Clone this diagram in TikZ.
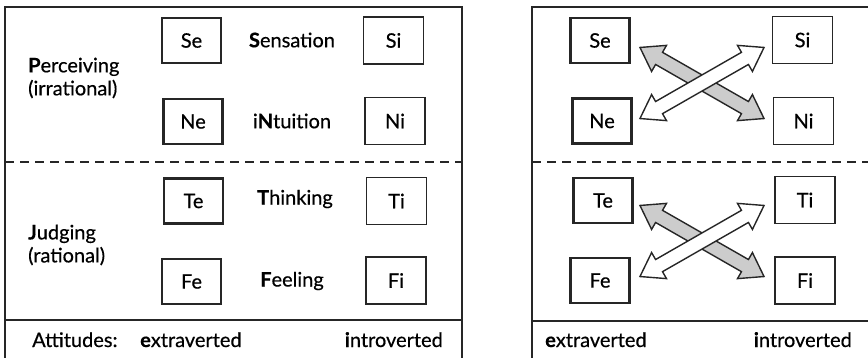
\documentclass[tikz,border=0pt]{standalone}
\usepackage{fontspec}
\setmainfont{Lato}[UprightFeatures={FakeBold=0.5}]
\newfontface\lbold{Lato Bold}[FakeBold=0.6]
\newcommand\Bl[1]{{\lbold #1}}
\begin{document}
\begin{tikzpicture}[x=1pt,y=-1pt,
  frame/.style={line width=1.8pt,draw=black!85},
  divider/.style={line width=1.3pt,draw=black!85},
  dashdiv/.style={line width=1.3pt,draw=black!85,dash pattern=on 9pt off 6pt},
  extbox/.style={draw=black!85,line width=2.8pt,minimum width=59pt,minimum height=45pt,inner sep=0pt,font=\fontsize{20}{24}\selectfont},
  intbox/.style={draw=black!85,line width=1.5pt,minimum width=60pt,minimum height=47pt,inner sep=0pt,font=\fontsize{20}{24}\selectfont},
  lbl/.style={inner sep=0pt,font=\fontsize{20}{24}\selectfont},
  side/.style={inner sep=0pt,anchor=west,align=left,font=\fontsize{20}{23}\selectfont},
  arrgray/.style={draw=black!85,line width=1.4pt,fill=black!20,line join=miter},
  arrwhite/.style={draw=black!85,line width=1.4pt,fill=white,line join=miter}
]
\useasboundingbox (0,0) rectangle (868,358);
% left panel frame
\draw[frame] (5,358) -- (5,7) -- (462,7) -- (462,358);
\draw[dashdiv] (5,162) -- (462,162);
\draw[divider] (5,320) -- (462,320);
% right panel frame
\draw[frame] (532,358) -- (532,7) -- (868,7);
\draw[dashdiv] (532,162) -- (868,162);
\draw[divider] (532,321) -- (868,321);

% left boxes
\node[extbox] (Se) at (191.5,40.5) {Se};
\node[intbox] (Si) at (393.5,40.5) {Si};
\node[extbox] (Ne) at (193,121.5) {Ne};
\node[intbox] (Ni) at (395,121) {Ni};
\node[extbox] (Te) at (193.5,201) {Te};
\node[intbox] (Ti) at (396.5,201) {Ti};
\node[extbox] (Fe) at (191.5,281.5) {Fe};
\node[intbox] (Fi) at (396,280.5) {Fi};

\node[lbl] (sens) at (292,40) {\Bl{S}ensation};
\node[lbl] (intu) at (292,121) {i\Bl{N}tuition};
\node[lbl] (thin) at (295,199) {\Bl{T}hinking};
\node[lbl] (feel) at (292,281) {\Bl{F}eeling};

\node[side] (perc) at (28,78) {\Bl{P}erceiving\\(irrational)};
\node[side] (judg) at (28,245) {\Bl{J}udging\\(rational)};

\node[lbl,anchor=base west] (att) at (32,347) {Attitudes:};
\node[lbl,anchor=base west] (ext) at (140,347) {\Bl{e}xtraverted};
\node[lbl,anchor=base east] (intr) at (443,347) {\Bl{i}ntroverted};

% right boxes
\node[extbox] (Se2) at (600,40.5) {Se};
\node[intbox] (Si2) at (802.5,40) {Si};
\node[extbox] (Ne2) at (602,121) {Ne};
\node[intbox] (Ni2) at (803.5,121) {Ni};
\node[extbox] (Te2) at (603,200.5) {Te};
\node[intbox] (Ti2) at (805,200) {Ti};
\node[extbox] (Fe2) at (600,280.5) {Fe};
\node[intbox] (Fi2) at (805,280.5) {Fi};

\node[lbl,anchor=base west] (ext2) at (545,347) {\Bl{e}xtraverted};
\node[lbl,anchor=base east] (intr2) at (852,347) {\Bl{i}ntroverted};

% double arrows
\coordinate (mP) at (702,83);
\coordinate (mJ) at (702,241);
\foreach \m in {mP,mJ}{
  \begin{scope}[shift={(\m)},rotate=-29.8]
    \draw[arrgray] (-71.5,0) -- (-49.5,-15) -- (-49.5,-7) -- (49.5,-7) -- (49.5,-15) -- (71.5,0) -- (49.5,15) -- (49.5,7) -- (-49.5,7) -- (-49.5,15) -- cycle;
  \end{scope}
  \begin{scope}[shift={(\m)},rotate=29.8]
    \draw[arrwhite] (-71.5,0) -- (-49.5,-15) -- (-49.5,-7) -- (49.5,-7) -- (49.5,-15) -- (71.5,0) -- (49.5,15) -- (49.5,7) -- (-49.5,7) -- (-49.5,15) -- cycle;
  \end{scope}
}
\end{tikzpicture}
\end{document}
